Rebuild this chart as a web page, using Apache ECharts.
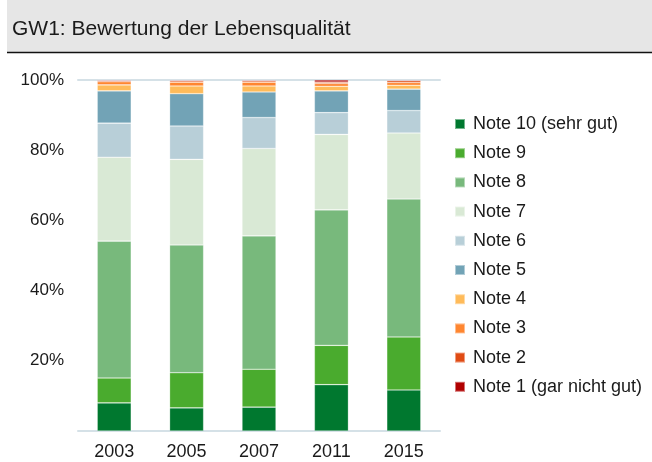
<!DOCTYPE html>
<html>
<head>
<meta charset="utf-8">
<script src="https://cdn.jsdelivr.net/npm/echarts@6/dist/echarts.min.js"></script>
<style>
  html, body { margin: 0; padding: 0; background: #fff; }
  #chart { width: 652px; height: 462px; }
</style>
</head>
<body>
<div id="chart"></div>
<script>
const years = ["2003", "2005", "2007", "2011", "2015"];

// Anteile in Prozent, je Jahr
const note10 = [8.0, 6.6, 6.8, 13.2, 11.7];
const note9 = [7.1, 10.0, 10.8, 11.2, 15.1];
const note8 = [39.0, 36.4, 38.0, 38.6, 39.3];
const note7 = [23.9, 24.4, 24.9, 21.5, 18.8];
const note6 = [9.7, 9.5, 8.8, 6.2, 6.4];
const note5 = [9.2, 9.2, 7.3, 6.2, 6.1];
const note4 = [1.7, 2.2, 1.7, 1.3, 1.1];
const note3 = [0.9, 1.1, 1.1, 0.8, 0.8];
const note2 = [0.3, 0.4, 0.4, 0.4, 0.5];
const note1 = [0.2, 0.2, 0.2, 0.6, 0.2];

const seriesNames = [
  "Note 10 (sehr gut)", "Note 9", "Note 8", "Note 7", "Note 6",
  "Note 5", "Note 4", "Note 3", "Note 2", "Note 1 (gar nicht gut)"
];
const seriesData = [note10, note9, note8, note7, note6, note5, note4, note3, note2, note1];
const colors = [
  "#00782f", "#4aab2e", "#78b97c", "#d9e9d5", "#b8cfd8",
  "#72a3b6", "#ffbb5a", "#ff8630", "#e04b14", "#b00000"
];

const chart = echarts.init(document.getElementById("chart"));
const font = "'Liberation Sans', Arial, sans-serif";
const axisColor = "#d5e1e7";

const option = {
  animation: false,
  color: colors,
  title: {
    text: "GW1: Bewertung der Lebensqualität",
    left: 7,
    top: 14,
    textStyle: { fontFamily: font, fontSize: 21, fontWeight: "normal", color: "#1a1a1a" }
  },
  graphic: [
    { type: "rect", z: -1, shape: { x: 7, y: 0, width: 645, height: 52 }, style: { fill: "#e6e6e6" } },
    { type: "line", shape: { x1: 7, y1: 52.5, x2: 652, y2: 52.5 }, style: { stroke: "#111", lineWidth: 1.5 } }
  ],
  legend: {
    orient: "vertical",
    left: 449,
    top: 110,
    itemWidth: 10,
    itemHeight: 10,
    itemGap: 11.2,
    icon: "rect",
    data: seriesNames,
    textStyle: { fontFamily: font, fontSize: 18, lineHeight: 18, color: "#1a1a1a", padding: [0, 0, 0, 3] }
  },
  grid: { left: 78, right: 212, top: 80, bottom: 31 },
  xAxis: [
    {
      type: "category",
      data: years,
      axisLine: { lineStyle: { color: axisColor, width: 2 } },
      axisTick: { show: false },
      axisLabel: { fontFamily: font, fontSize: 18, color: "#1a1a1a", margin: 12 }
    },
    {
      type: "category",
      position: "top",
      data: years,
      axisLine: { lineStyle: { color: axisColor, width: 2 } },
      axisTick: { show: false },
      axisLabel: { show: false }
    }
  ],
  yAxis: {
    type: "value",
    min: 0,
    max: 100,
    interval: 20,
    axisLine: { show: false },
    axisTick: { show: false },
    splitLine: { show: false },
    axisLabel: {
      fontFamily: font, fontSize: 17, color: "#1a1a1a", margin: 14,
      formatter: v => (v === 0 ? "" : v + "%")
    }
  },
  series: seriesNames.map((name, i) => ({
    name,
    type: "bar",
    stack: "total",
    barWidth: 34,
    data: seriesData[i],
    itemStyle: { borderColor: "rgba(255,255,255,0.45)", borderWidth: 0.6 }
  }))
};

chart.setOption(option);
</script>
</body>
</html>
